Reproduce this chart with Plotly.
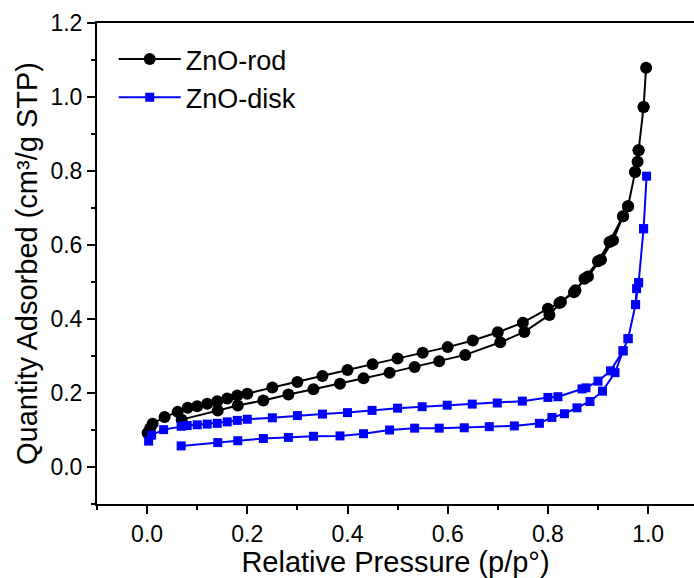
import plotly.graph_objects as go

# ZnO-rod: branch starting near p/p0=0 (upper path) up to the top
rod_up_x = [0.001, 0.006, 0.011, 0.035, 0.061, 0.081, 0.10, 0.12, 0.14, 0.16, 0.18, 0.20,
            0.25, 0.30, 0.35, 0.40, 0.45, 0.50, 0.55, 0.60, 0.65, 0.70, 0.75, 0.80,
            0.823, 0.852, 0.873, 0.90, 0.923, 0.95, 0.96, 0.974, 0.979, 0.981, 0.991, 0.996]
rod_up_y = [0.092, 0.104, 0.117, 0.135, 0.149, 0.160, 0.164, 0.171, 0.178, 0.185, 0.193, 0.198,
            0.215, 0.230, 0.246, 0.262, 0.278, 0.293, 0.309, 0.324, 0.342, 0.364, 0.390, 0.428,
            0.443, 0.472, 0.509, 0.556, 0.608, 0.678, 0.705, 0.797, 0.825, 0.856, 0.973, 1.079]
# ZnO-rod: return branch (lower path) from the top down
rod_dn_x = [0.991, 0.981, 0.974, 0.96, 0.95, 0.93, 0.906, 0.88, 0.855, 0.826, 0.803, 0.753,
            0.705, 0.635, 0.583, 0.534, 0.484, 0.432, 0.385, 0.332, 0.282, 0.232, 0.181, 0.141, 0.069]
rod_dn_y = [0.973, 0.856, 0.797, 0.705, 0.678, 0.613, 0.560, 0.515, 0.478, 0.446, 0.411, 0.365,
            0.337, 0.303, 0.286, 0.270, 0.255, 0.240, 0.225, 0.210, 0.196, 0.180, 0.166, 0.153, 0.128]

# ZnO-disk
disk_up_x = [0.003, 0.009, 0.033, 0.068, 0.08, 0.10, 0.12, 0.14, 0.16, 0.18, 0.20, 0.25, 0.30,
             0.35, 0.40, 0.449, 0.50, 0.549, 0.599, 0.649, 0.699, 0.749, 0.80, 0.82, 0.868,
             0.876, 0.90, 0.925, 0.95, 0.96, 0.975, 0.977, 0.981, 0.991, 0.997]
disk_up_y = [0.070, 0.086, 0.101, 0.110, 0.112, 0.114, 0.116, 0.118, 0.122, 0.126, 0.129, 0.133,
             0.139, 0.143, 0.147, 0.153, 0.159, 0.163, 0.167, 0.170, 0.173, 0.178, 0.188, 0.190,
             0.211, 0.214, 0.232, 0.260, 0.314, 0.347, 0.439, 0.482, 0.498, 0.644, 0.786]
disk_dn_x = [0.991, 0.981, 0.975, 0.96, 0.95, 0.934, 0.909, 0.884, 0.858, 0.833, 0.808, 0.783,
             0.733, 0.683, 0.633, 0.583, 0.534, 0.484, 0.432, 0.385, 0.332, 0.282, 0.232,
             0.181, 0.141, 0.068]
disk_dn_y = [0.644, 0.498, 0.439, 0.347, 0.314, 0.255, 0.205, 0.177, 0.160, 0.144, 0.134, 0.118,
             0.111, 0.109, 0.106, 0.105, 0.105, 0.100, 0.090, 0.084, 0.083, 0.080, 0.077,
             0.071, 0.066, 0.057]

names = ["ZnO-rod", "ZnO-disk"]
x_title = "Relative Pressure (p/p°)"
y_title = "Quantity Adsorbed (cm³/g STP)"

FONT = "Arial, Liberation Sans, sans-serif"

fig = go.Figure()
fig.add_trace(go.Scatter(
    x=rod_up_x + rod_dn_x, y=rod_up_y + rod_dn_y, name=names[0],
    mode="lines+markers",
    line=dict(color="black", width=2),
    marker=dict(symbol="circle", size=12, color="black"),
))
fig.add_trace(go.Scatter(
    x=disk_up_x + disk_dn_x, y=disk_up_y + disk_dn_y, name=names[1],
    mode="lines+markers",
    line=dict(color="#0000FF", width=2),
    marker=dict(symbol="square", size=9, color="#0000FF"),
))

axis_common = dict(
    showgrid=False, zeroline=False,
    showline=True, linecolor="black", linewidth=2,
    ticks="outside", ticklen=8, tickwidth=2, tickcolor="black",
    tickfont=dict(family=FONT, size=23, color="black"),
    minor=dict(ticks="outside", ticklen=4, tickwidth=2, tickcolor="black", dtick=0.1),
)

fig.update_xaxes(
    range=[-0.1, 1.0916], tick0=0, dtick=0.2, tickformat=".1f",
    mirror=True,
    title=dict(text=x_title, font=dict(family=FONT, size=29, color="black"), standoff=2),
    **axis_common,
)
fig.update_yaxes(
    range=[-0.1, 1.2], tick0=0, dtick=0.2, tickformat=".1f",
    title=dict(text=y_title, font=dict(family=FONT, size=29, color="black"), standoff=4),
    **axis_common,
)

fig.update_layout(
    width=694, height=578,
    margin=dict(l=97, r=0, t=23, b=74),
    paper_bgcolor="white", plot_bgcolor="white",
    font=dict(family=FONT, color="black"),
    legend=dict(
        x=0.028, y=0.975, xanchor="left", yanchor="top",
        font=dict(family=FONT, size=27, color="black"),
        bgcolor="rgba(0,0,0,0)", tracegroupgap=0, itemwidth=62,
    ),
    showlegend=True,
)

fig.write_html("out.html")
